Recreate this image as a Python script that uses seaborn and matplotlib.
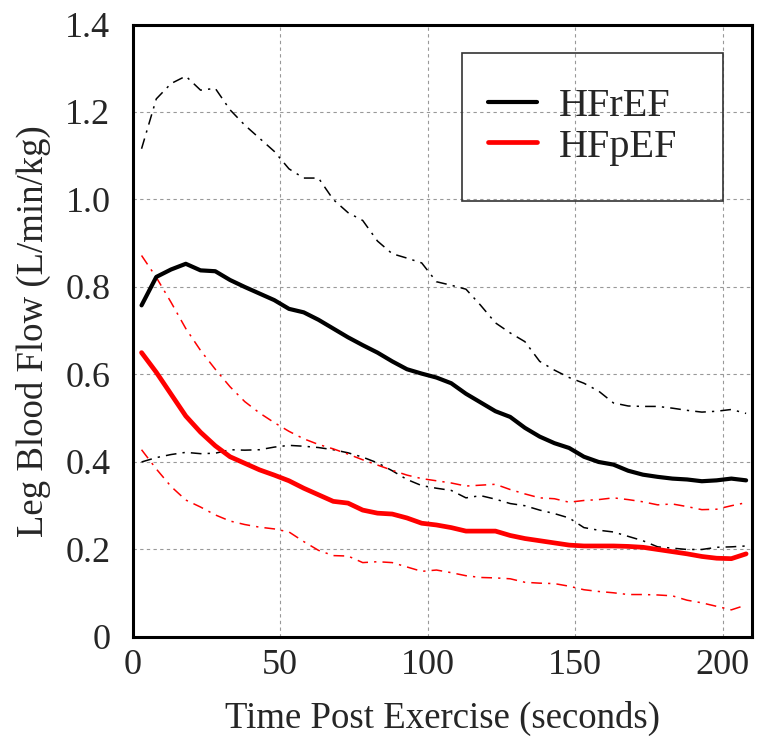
import matplotlib
matplotlib.use("Agg")
import matplotlib.pyplot as plt
import seaborn as sns
from matplotlib.patches import Rectangle
from matplotlib.ticker import FuncFormatter

# sample times (seconds post exercise)
time_s = [3, 8, 13, 18, 23, 28, 33, 38, 43, 48, 53, 58, 63, 68, 73, 78, 83,
          88, 93, 98, 103, 108, 113, 118, 123, 128, 133, 138, 143, 148, 153,
          158, 163, 168, 173, 178, 183, 188, 193, 198, 203, 208]

# HFrEF mean and band
hfref_mean = [0.758, 0.823, 0.840, 0.853, 0.838, 0.836, 0.816, 0.800, 0.785,
              0.770, 0.750, 0.742, 0.725, 0.705, 0.685, 0.667, 0.650, 0.630,
              0.612, 0.602, 0.593, 0.580, 0.556, 0.536, 0.516, 0.503, 0.478,
              0.458, 0.443, 0.432, 0.412, 0.400, 0.394, 0.380, 0.371, 0.366,
              0.362, 0.360, 0.356, 0.358, 0.362, 0.358]
hfref_upper = [1.116, 1.230, 1.265, 1.282, 1.250, 1.254, 1.205, 1.170, 1.140,
               1.110, 1.070, 1.049, 1.049, 1.000, 0.970, 0.952, 0.905, 0.876,
               0.866, 0.855, 0.812, 0.804, 0.795, 0.758, 0.718, 0.695, 0.675,
               0.630, 0.610, 0.593, 0.580, 0.562, 0.535, 0.528, 0.527, 0.527,
               0.523, 0.518, 0.514, 0.516, 0.520, 0.511]
hfref_lower = [0.400, 0.410, 0.417, 0.422, 0.419, 0.420, 0.428, 0.427, 0.428,
               0.434, 0.438, 0.436, 0.433, 0.428, 0.421, 0.411, 0.398, 0.380,
               0.360, 0.346, 0.340, 0.335, 0.318, 0.323, 0.315, 0.305, 0.300,
               0.290, 0.282, 0.272, 0.250, 0.244, 0.240, 0.230, 0.220, 0.206,
               0.203, 0.200, 0.200, 0.205, 0.206, 0.208]

# HFpEF mean and band
hfpef_mean = [0.650, 0.605, 0.555, 0.505, 0.468, 0.437, 0.412, 0.397, 0.382,
              0.370, 0.357, 0.340, 0.325, 0.310, 0.306, 0.290, 0.283, 0.281,
              0.272, 0.260, 0.256, 0.250, 0.242, 0.242, 0.242, 0.232, 0.225,
              0.220, 0.215, 0.210, 0.208, 0.208, 0.208, 0.207, 0.205, 0.200,
              0.195, 0.190, 0.184, 0.180, 0.179, 0.190]
hfpef_upper = [0.872, 0.822, 0.765, 0.705, 0.655, 0.612, 0.572, 0.538, 0.512,
               0.490, 0.470, 0.453, 0.440, 0.430, 0.418, 0.405, 0.393, 0.381,
               0.370, 0.362, 0.357, 0.352, 0.345, 0.347, 0.349, 0.337, 0.327,
               0.318, 0.316, 0.308, 0.312, 0.314, 0.318, 0.314, 0.309, 0.302,
               0.304, 0.298, 0.291, 0.292, 0.300, 0.307]
hfpef_lower = [0.428, 0.384, 0.344, 0.313, 0.297, 0.279, 0.265, 0.257, 0.251,
               0.247, 0.240, 0.218, 0.198, 0.186, 0.185, 0.170, 0.172, 0.170,
               0.160, 0.150, 0.153, 0.147, 0.140, 0.136, 0.135, 0.133, 0.125,
               0.123, 0.122, 0.116, 0.108, 0.104, 0.101, 0.097, 0.097, 0.096,
               0.094, 0.084, 0.078, 0.070, 0.062, 0.073]

x_ticks = [0, 50, 100, 150, 200]
y_ticks = [0, 0.2, 0.4, 0.6, 0.8, 1.0, 1.2, 1.4]

sns.set_style("white")
plt.rcParams['font.family'] = ['Liberation Serif', 'DejaVu Serif']

fig = plt.figure(figsize=(7.57, 7.38), dpi=100)
ax = fig.add_axes([0.1753, 0.1369, 0.8181, 0.8299])

dashdot = (0, (7, 4, 1.5, 4))
sns.lineplot(x=time_s, y=hfref_upper, ax=ax, color='black', lw=1.1, linestyle=dashdot)
sns.lineplot(x=time_s, y=hfref_lower, ax=ax, color='black', lw=1.1, linestyle=dashdot)
sns.lineplot(x=time_s, y=hfpef_upper, ax=ax, color='red', lw=1.1, linestyle=dashdot)
sns.lineplot(x=time_s, y=hfpef_lower, ax=ax, color='red', lw=1.1, linestyle=dashdot)
sns.lineplot(x=time_s, y=hfref_mean, ax=ax, color='black', lw=3.0, label='HFrEF')
sns.lineplot(x=time_s, y=hfpef_mean, ax=ax, color='red', lw=3.4, label='HFpEF')

ax.set_xlim(0, 210)
ax.set_ylim(0, 1.4)
ax.set_xticks(x_ticks)
ax.set_yticks(y_ticks)
ax.yaxis.set_major_formatter(FuncFormatter(lambda v, p: '0' if v == 0 else f'{v:.1f}'))
ax.tick_params(axis='both', labelsize=26, length=0)
ax.tick_params(axis='y', pad=16)
ax.tick_params(axis='x', pad=9)
ax.grid(True, color='#999999', linestyle=(0, (3, 3)), lw=0.8)
ax.set_xlabel('Time Post Exercise (seconds)', fontsize=26.5, labelpad=13)
ax.set_ylabel('Leg Blood Flow (L/min/kg)', fontsize=26.5, labelpad=10)

for sp in ax.spines.values():
    sp.set_visible(True)
    sp.set_color('black')
    sp.set_linewidth(2.2)

# legend with a framed box
ax.legend(loc='center', bbox_to_anchor=(0.727, 0.833), frameon=False,
          fontsize=29, handlelength=1.2, handletextpad=0.55, labelspacing=0.08)
ax.add_patch(Rectangle((0.531, 0.712), 0.422, 0.241, transform=ax.transAxes,
                       fill=False, edgecolor='#333333', lw=1.2, zorder=5))

fig.savefig('out.png', dpi=100)
